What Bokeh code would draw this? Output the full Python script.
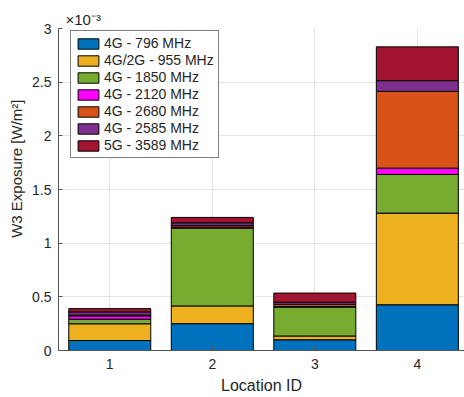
from bokeh.plotting import figure
from bokeh.models import ColumnDataSource, Range1d, FixedTicker, NumeralTickFormatter
from bokeh.embed import file_html
from bokeh.resources import INLINE

# ---- data (values in units of 1e-3 W/m^2) ----
locations = [1, 2, 3, 4]
band_labels = ["4G - 796 MHz", "4G/2G - 955 MHz", "4G - 1850 MHz", "4G - 2120 MHz",
               "4G - 2680 MHz", "4G - 2585 MHz", "5G - 3589 MHz"]
b796 = [0.093, 0.250, 0.100, 0.426]
b955 = [0.156, 0.165, 0.035, 0.854]
b1850 = [0.043, 0.725, 0.270, 0.360]
b2120 = [0.030, 0.010, 0.005, 0.059]
b2680 = [0.008, 0.015, 0.020, 0.715]
b2585 = [0.030, 0.025, 0.020, 0.100]
b3589 = [0.030, 0.050, 0.085, 0.315]
x_ticks = [1, 2, 3, 4]
y_ticks = [0, 0.5, 1, 1.5, 2, 2.5, 3]
colors = ["#0072BD", "#EDB120", "#77AC30", "#FF00FF", "#D95319", "#7E2F8E", "#A2142F"]

keys = ["b796", "b955", "b1850", "b2120", "b2680", "b2585", "b3589"]
src = ColumnDataSource(dict(x=locations, b796=b796, b955=b955, b1850=b1850, b2120=b2120,
                            b2680=b2680, b2585=b2585, b3589=b3589))

FONT = "Liberation Sans"
TXT = "#262626"

p = figure(width=464, height=397, x_range=Range1d(0.5, 4.46), y_range=Range1d(0, 3),
           output_backend="svg", toolbar_location=None,
           min_border_left=58, min_border_right=0, min_border_top=28, min_border_bottom=47)
p.outline_line_color = None
p.background_fill_color = "white"

p.title.text = "×10⁻³"
p.title.align = "left"
p.title.offset = 7
p.title.text_font = FONT
p.title.text_font_size = "15px"
p.title.text_font_style = "normal"
p.title.text_color = TXT
p.title.standoff = 2

p.vbar_stack(keys, x="x", width=0.8, color=colors, source=src,
             line_color="black", line_width=1, legend_label=band_labels)

for ax in (p.xaxis[0], p.yaxis[0]):
    ax.axis_line_color = "#555555"
    ax.major_tick_line_color = "#555555"
    ax.major_tick_in = 4
    ax.major_tick_out = 0
    ax.minor_tick_line_color = None
    ax.major_label_text_font = FONT
    ax.major_label_text_font_size = "14px"
    ax.major_label_text_color = TXT
    ax.axis_label_text_font = FONT
    ax.axis_label_text_font_size = "16px"
    ax.axis_label_text_font_style = "normal"
    ax.axis_label_text_color = TXT

p.xaxis.ticker = FixedTicker(ticks=x_ticks)
p.yaxis.ticker = FixedTicker(ticks=y_ticks)
p.yaxis.formatter = NumeralTickFormatter(format="0.[0]")
p.xaxis.major_label_standoff = 8
p.yaxis.major_label_standoff = 7

p.xaxis.axis_label = "Location ID"
p.xaxis.axis_label_standoff = 5
p.yaxis.axis_label = "\u00a0" * 10 + "W3 Exposure [W/m²]"
p.yaxis.axis_label_text_font_size = "15px"
p.yaxis.axis_label_standoff = 4

p.xgrid.grid_line_color = "#e3e3e3"
p.ygrid.grid_line_color = "#e3e3e3"

lg = p.legend[0]
lg.location = (12, 192)
lg.margin = 0
lg.padding = 4
lg.spacing = 1
lg.glyph_width = 26
lg.glyph_height = 13
lg.label_height = 13
lg.label_standoff = 3
lg.label_text_font = FONT
lg.label_text_font_size = "14px"
lg.label_text_color = TXT
lg.border_line_color = "black"
lg.border_line_width = 1
lg.background_fill_alpha = 1

open("out.html", "w").write(file_html(p, INLINE))
